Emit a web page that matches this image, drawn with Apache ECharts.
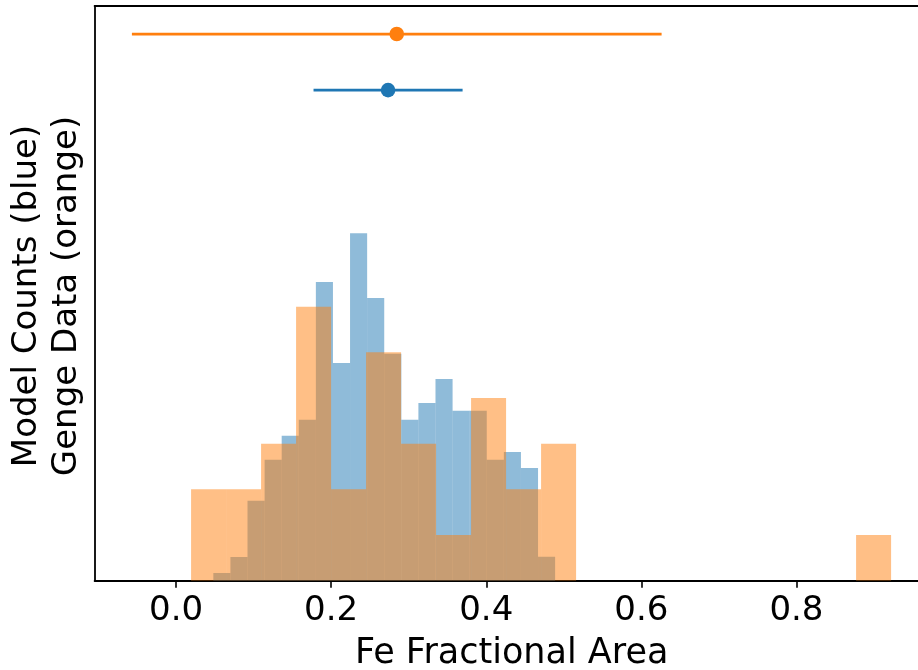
<!DOCTYPE html>
<html>
<head>
<meta charset="utf-8">
<script src="https://cdn.jsdelivr.net/npm/echarts@6/dist/echarts.min.js"></script>
<style>
  html, body { margin: 0; padding: 0; background: #fff; }
  #chart { width: 918px; height: 670px; }
</style>
</head>
<body>
<div id="chart"></div>
<script>
// Fe fractional area: model distribution vs. Genge measurements (both normalised to density)

// Model histogram: 20 equal bins over this range, density per bin
const modelRange = [0.0481, 0.4888];
const modelDensity = [0.110, 0.338, 1.142, 1.727, 2.069, 2.297, 4.262, 3.106, 4.956, 4.034,
                      3.239, 2.297, 2.536, 2.878, 2.426, 2.426, 1.727, 1.836, 1.608, 0.342];

// Genge data histogram: 20 equal bins over this range, raw counts per bin
const gengeRange = [0.0194, 0.9220];
const gengeCounts = [2, 2, 3, 6, 2, 5, 3, 1, 4, 2, 3, 0, 0, 0, 0, 0, 0, 0, 0, 1];

// Mean +/- spread markers drawn above the histograms: [mean, halfWidth, height]
const modelSummary = [0.2734, 0.0961, 7.0];
const gengeSummary = [0.2846, 0.3415, 7.8];

const xTickValues = [0.0, 0.2, 0.4, 0.6, 0.8];
const xLimits = [-0.105, 0.9705];
const yLimits = [0, 8.2];

// Turn a range + per-bin heights into [left, right, height] rows
function binsFrom(range, heights) {
  const w = (range[1] - range[0]) / heights.length;
  return heights.map((h, i) => [range[0] + i * w, range[0] + (i + 1) * w, h]);
}

const gengeBinWidth = (gengeRange[1] - gengeRange[0]) / gengeCounts.length;
const gengeTotal = gengeCounts.reduce((a, b) => a + b, 0);
const gengeDensity = gengeCounts.map(c => c / (gengeTotal * gengeBinWidth));

const modelBins = binsFrom(modelRange, modelDensity);
const gengeBins = binsFrom(gengeRange, gengeDensity);

const BLUE = '#1f77b4';
const ORANGE = '#ff7f0e';
const FONT = 'DejaVu Sans';

function histRenderer(fill) {
  return function (params, api) {
    const topLeft = api.coord([api.value(0), api.value(2)]);
    const bottomRight = api.coord([api.value(1), 0]);
    return {
      type: 'rect',
      shape: {
        x: topLeft[0],
        y: topLeft[1],
        width: bottomRight[0] - topLeft[0],
        height: bottomRight[1] - topLeft[1]
      },
      style: { fill: fill }
    };
  };
}

function summaryRenderer(color) {
  return function (params, api) {
    const m = api.value(0), hw = api.value(1), y = api.value(2);
    const a = api.coord([m - hw, y]);
    const b = api.coord([m + hw, y]);
    const c = api.coord([m, y]);
    return {
      type: 'group',
      children: [
        { type: 'line', shape: { x1: a[0], y1: a[1], x2: b[0], y2: b[1] },
          style: { stroke: color, lineWidth: 2.7 } },
        { type: 'circle', shape: { cx: c[0], cy: c[1], r: 7.3 },
          style: { fill: color } }
      ]
    };
  };
}

const chart = echarts.init(document.getElementById('chart'), null, { renderer: 'canvas' });

chart.setOption({
  backgroundColor: '#ffffff',
  animation: false,
  // the frame runs slightly past the right edge of the canvas
  grid: { left: 94.6, width: 834.1, top: 6, bottom: 89.3,
          containLabel: false, outerBoundsMode: 'none' },
  xAxis: [
    {
      type: 'value',
      position: 'bottom',
      min: xLimits[0],
      max: xLimits[1],
      splitLine: { show: false },
      axisLine: { show: true, onZero: false, lineStyle: { color: '#000', width: 1.8 } },
      axisTick: { show: true, customValues: xTickValues, length: 7, inside: false,
                  lineStyle: { color: '#000', width: 1.6 } },
      axisLabel: { show: true, customValues: xTickValues, margin: 13,
                   formatter: v => v.toFixed(1),
                   fontFamily: FONT, fontSize: 34, color: '#000' },
      name: 'Fe Fractional Area',
      nameLocation: 'middle',
      nameGap: 56,
      nameTextStyle: { fontFamily: FONT, fontSize: 35, color: '#000' }
    },
    {
      type: 'value',
      position: 'top',
      min: xLimits[0],
      max: xLimits[1],
      splitLine: { show: false },
      axisLine: { show: true, onZero: false, lineStyle: { color: '#000', width: 1.8 } },
      axisTick: { show: false },
      axisLabel: { show: false }
    }
  ],
  yAxis: {
    type: 'value',
    min: yLimits[0],
    max: yLimits[1],
    splitLine: { show: false },
    axisLine: { show: true, onZero: false, lineStyle: { color: '#000', width: 1.8 } },
    axisTick: { show: false },
    axisLabel: { show: false }
  },
  graphic: [
    {
      type: 'text', x: 27, y: 296, rotation: Math.PI / 2,
      style: { text: 'Model Counts (blue)', fontFamily: FONT, fontSize: 34,
               fill: '#000', align: 'center', verticalAlign: 'middle' }
    },
    {
      type: 'text', x: 67, y: 296, rotation: Math.PI / 2,
      style: { text: 'Genge Data (orange)', fontFamily: FONT, fontSize: 34,
               fill: '#000', align: 'center', verticalAlign: 'middle' }
    }
  ],
  series: [
    {
      name: 'Model',
      type: 'custom',
      xAxisIndex: 0,
      clip: true,
      renderItem: histRenderer('rgba(31,119,180,0.5)'),
      encode: { x: [0, 1], y: 2 },
      data: modelBins,
      z: 1
    },
    {
      name: 'Genge',
      type: 'custom',
      xAxisIndex: 0,
      clip: true,
      renderItem: histRenderer('rgba(255,127,14,0.5)'),
      encode: { x: [0, 1], y: 2 },
      data: gengeBins,
      z: 2
    },
    {
      name: 'Genge summary',
      type: 'custom',
      xAxisIndex: 0,
      renderItem: summaryRenderer(ORANGE),
      encode: { x: 0, y: 2 },
      data: [gengeSummary],
      z: 3
    },
    {
      name: 'Model summary',
      type: 'custom',
      xAxisIndex: 0,
      renderItem: summaryRenderer(BLUE),
      encode: { x: 0, y: 2 },
      data: [modelSummary],
      z: 3
    }
  ]
});
</script>
</body>
</html>
